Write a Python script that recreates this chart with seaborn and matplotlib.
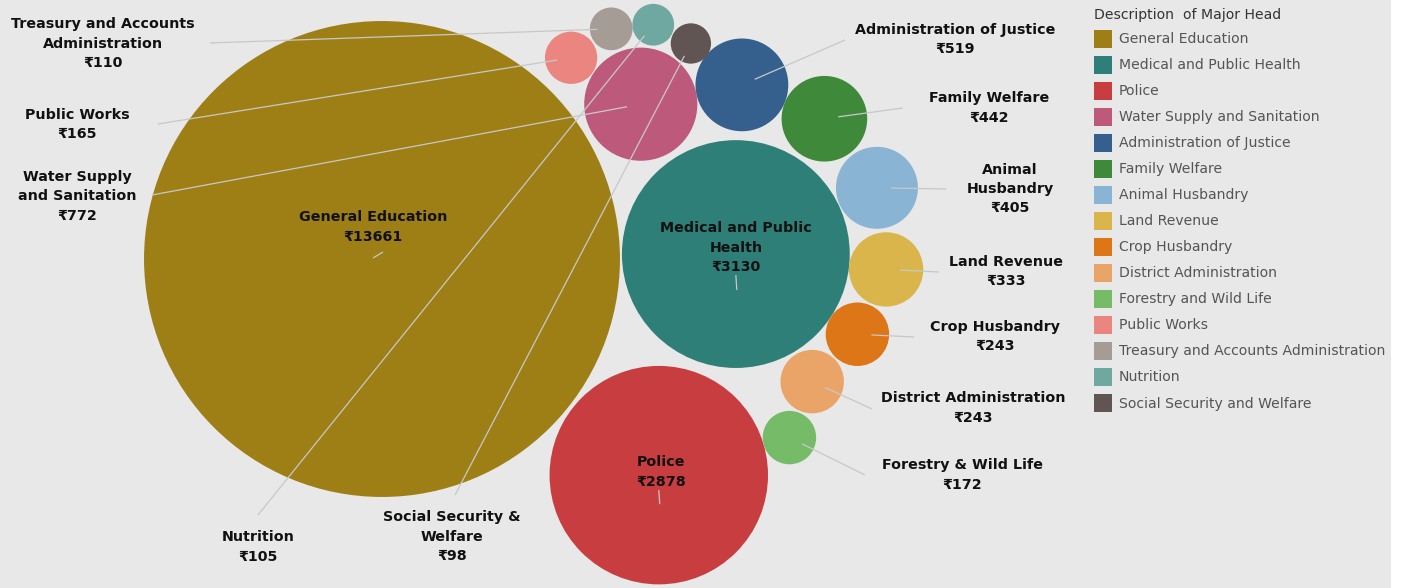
import numpy as np
import pandas as pd
import matplotlib
matplotlib.use('Agg')
import matplotlib.pyplot as plt
from matplotlib.patches import Patch
import seaborn as sns

# ---- data ----
categories = ['General Education', 'Medical and Public Health', 'Police',
              'Water Supply and Sanitation', 'Administration of Justice',
              'Family Welfare', 'Animal Husbandry', 'Land Revenue',
              'Crop Husbandry', 'District Administration', 'Forestry and Wild Life',
              'Public Works', 'Treasury and Accounts Administration', 'Nutrition',
              'Social Security and Welfare']
values = [13661, 3130, 2878, 772, 519, 442, 405, 333, 243, 243, 172, 165, 110, 105, 98]
colors = ['#9d7f16', '#2f7f79', '#c83e40', '#bd5a7c', '#35608d', '#3f8a3a',
          '#8ab4d4', '#dab54b', '#dc7616', '#eaa467', '#76bb67', '#ea8580',
          '#a59c96', '#6fa8a0', '#605553']
short_names = ['General Education', 'Medical and Public\nHealth', 'Police',
               'Water Supply\nand Sanitation', 'Administration of Justice',
               'Family Welfare', 'Animal\nHusbandry', 'Land Revenue',
               'Crop Husbandry', 'District Administration', 'Forestry & Wild Life',
               'Public Works', 'Treasury and Accounts\nAdministration', 'Nutrition',
               'Social Security &\nWelfare']

# ---- bubble packing (each bubble touches two already placed ones) ----
k = 2.036   # px of radius per sqrt(value)
radius = {c: k * np.sqrt(v) for c, v in zip(categories, values)}
# (bubble, neighbour a, neighbour b, side, (gap to a, gap to b) in px)
chain = [
    ('Police', 'General Education', 'Medical and Public Health', -1, (4, 11)),
    ('Water Supply and Sanitation', 'General Education', 'Medical and Public Health', 1, (7, 7)),
    ('Administration of Justice', 'Water Supply and Sanitation', 'Medical and Public Health', 1, (0, 9)),
    ('Family Welfare', 'Administration of Justice', 'Medical and Public Health', 1, (0, 5)),
    ('Animal Husbandry', 'Family Welfare', 'Medical and Public Health', 1, (3, 1)),
    ('Land Revenue', 'Animal Husbandry', 'Medical and Public Health', 1, (4, 0)),
    ('Crop Husbandry', 'Land Revenue', 'Medical and Public Health', 1, (2, 0)),
    ('District Administration', 'Crop Husbandry', 'Medical and Public Health', 1, (2, 3)),
    ('Forestry and Wild Life', 'District Administration', 'Police', 1, (2, 0)),
    ('Public Works', 'General Education', 'Water Supply and Sanitation', 1, (12, 1)),
    ('Treasury and Accounts Administration', 'Public Works', 'Water Supply and Sanitation', 1, (2, 3)),
    ('Nutrition', 'Treasury and Accounts Administration', 'Water Supply and Sanitation', 1, (0, 3)),
    ('Social Security and Welfare', 'Nutrition', 'Water Supply and Sanitation', 1, (1, 2)),
]


def touch(ca, ra, cb, rb, r, side, gaps):
    da, db = ra + r + gaps[0], rb + r + gaps[1]
    d = np.hypot(*(cb - ca))
    u = (cb - ca) / d
    a = (da ** 2 - db ** 2 + d ** 2) / (2 * d)
    h = np.sqrt(max(da ** 2 - a ** 2, 0))
    n = np.array([-u[1], u[0]])
    return ca + a * u + side * h * n


centers = {'General Education': np.array([0.0, 0.0])}
ang = np.radians(0.8)
dist = radius['General Education'] + radius['Medical and Public Health'] + 2
centers['Medical and Public Health'] = dist * np.array([np.cos(ang), np.sin(ang)])
for c, a, b, side, g in chain:
    centers[c] = touch(centers[a], radius[a], centers[b], radius[b], radius[c], side, g)

df = pd.DataFrame({'category': categories, 'value': values,
                   'x': [centers[c][0] for c in categories],
                   'y': [centers[c][1] for c in categories]})

# ---- figure ----
W, H, DPI = 1410, 588, 100
OX, OY = 382, 259   # image pixel of the largest bubble's centre


def px(x, y):
    return x - OX, OY - y


sns.set_theme(style='white')
plt.rcParams['font.family'] = ['DejaVu Sans', 'Noto Sans']

fig = plt.figure(figsize=(W / DPI, H / DPI), dpi=DPI, facecolor='white')
ax = fig.add_axes([0, 0, 1391 / W, 1])
ax.set_facecolor('#e8e8e8')
ax.set_xlim(-OX, 1391 - OX)
ax.set_ylim(OY - H, OY)
ax.set_aspect('equal')
for s in ax.spines.values():
    s.set_visible(False)
ax.set_xticks([])
ax.set_yticks([])

pt = 72 / DPI
smin = (2 * k * np.sqrt(min(values)) * pt) ** 2
smax = (2 * k * np.sqrt(max(values)) * pt) ** 2
sns.scatterplot(data=df, x='x', y='y', hue='category', palette=dict(zip(categories, colors)),
                size='value', sizes=(smin, smax), size_norm=(min(values), max(values)),
                linewidth=0, alpha=1, legend=False, ax=ax, zorder=2)
ax.set_xlabel('')
ax.set_ylabel('')

# ---- labels ----
label_pos = {
    'General Education': (373, 227), 'Medical and Public Health': (736, 247.5),
    'Police': (661, 472), 'Water Supply and Sanitation': (77, 196.5),
    'Administration of Justice': (955, 39.5), 'Family Welfare': (989, 108),
    'Animal Husbandry': (1010, 189), 'Land Revenue': (1006, 271.5),
    'Crop Husbandry': (995, 336.5), 'District Administration': (973, 408),
    'Forestry and Wild Life': (962, 475), 'Public Works': (77, 124.5),
    'Treasury and Accounts Administration': (103, 43.5), 'Nutrition': (258, 547),
    'Social Security and Welfare': (452, 537),
}
line_end = {
    'Treasury and Accounts Administration': (210, 43), 'Public Works': (158, 124),
    'Water Supply and Sanitation': (152, 195), 'Nutrition': (258, 515),
    'Social Security and Welfare': (455, 495), 'Administration of Justice': (845, 40),
    'Family Welfare': (903, 108), 'Animal Husbandry': (946, 189),
    'Land Revenue': (939, 272), 'Crop Husbandry': (914, 337),
    'District Administration': (872, 409), 'Forestry and Wild Life': (865, 475),
}
stubs = {   # short marks under labels placed inside their bubble (offsets in px)
    'General Education': ((1, 7), (-9, 1)),
    'Medical and Public Health': ((0, -21), (1, -36)),
    'Police': ((0, -15), (1, -29)),
}
line_kw = dict(color='#c8c8c8', lw=0.9, zorder=3, solid_capstyle='butt')

for c, name, v in zip(categories, short_names, values):
    cx, cy = centers[c]
    if c in line_end:
        ex, ey = px(*line_end[c])
        d = np.array([ex - cx, ey - cy])
        d = d / np.hypot(*d)
        ax.plot([cx + 14 * d[0], ex], [cy + 14 * d[1], ey], **line_kw)
    else:
        (a0, b0), (a1, b1) = stubs[c]
        ax.plot([cx + a0, cx + a1], [cy + b0, cy + b1], **line_kw)
    tx, ty = px(*label_pos[c])
    ax.text(tx, ty, f'{name}\n₹{v}', ha='center', va='center', fontsize=10.3,
            fontweight='bold', color='#111111', linespacing=1.5, zorder=4)

# ---- legend ----
handles = [Patch(facecolor=col, edgecolor='none') for col in colors]
leg = fig.legend(handles, categories, loc='upper left', bbox_to_anchor=(1088 / W, 1 - 2 / H),
                 title='Description  of Major Head', frameon=False, fontsize=10.1,
                 title_fontsize=10.1, handlelength=1.28, handleheight=1.6,
                 handletextpad=0.5, labelspacing=0.57, borderaxespad=0,
                 alignment='left')
for t in leg.get_texts():
    t.set_color('#555555')
leg.get_title().set_color('#333333')

fig.savefig('out.png', dpi=DPI, facecolor=fig.get_facecolor())
